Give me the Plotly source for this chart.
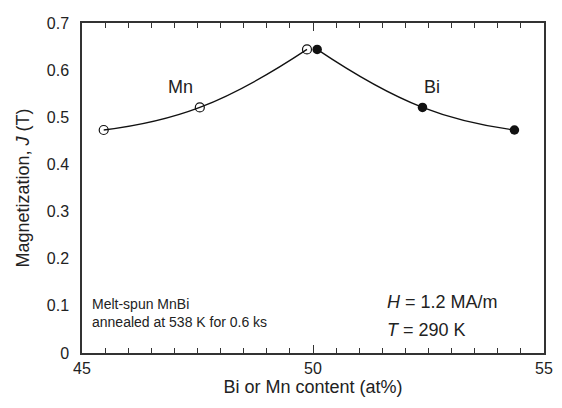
import plotly.graph_objects as go

mn_x = [45.47, 47.55, 49.87]
mn_y = [0.473, 0.521, 0.644]
bi_x = [50.09, 52.37, 54.36]
bi_y = [0.644, 0.521, 0.473]

x_ticks = [45, 50, 55]
y_ticks = [0, 0.1, 0.2, 0.3, 0.4, 0.5, 0.6, 0.7]
y_tick_labels = ["0", "0.1", "0.2", "0.3", "0.4", "0.5", "0.6", "0.7"]

FONT = "Liberation Sans, Arial, sans-serif"

fig = go.Figure()
fig.add_trace(go.Scatter(
    x=mn_x, y=mn_y, mode="lines+markers",
    line=dict(color="#111", width=1.3, shape="spline", smoothing=1.3),
    marker=dict(symbol="circle-open", size=9, color="#111", line=dict(width=1.2)),
    showlegend=False, cliponaxis=False))
fig.add_trace(go.Scatter(
    x=bi_x, y=bi_y, mode="lines+markers",
    line=dict(color="#111", width=1.3, shape="spline", smoothing=1.3),
    marker=dict(symbol="circle", size=9.5, color="#111"),
    showlegend=False, cliponaxis=False))

axis_line = "#333"
fig.update_layout(
    width=562, height=408,
    margin=dict(l=82, r=9, t=23, b=55),
    paper_bgcolor="white", plot_bgcolor="white",
    font=dict(family=FONT, color="#222", size=16),
    xaxis=dict(
        range=[45, 55], tickvals=x_ticks, ticktext=[str(v) for v in x_ticks],
        ticks="inside", ticklen=8, tickwidth=1.2, tickcolor=axis_line,
        minor=dict(dtick=0.5, ticks="inside", ticklen=5, tickwidth=1, tickcolor=axis_line),
        showline=True, linecolor=axis_line, linewidth=1.5, mirror="ticks",
        showgrid=False, zeroline=False,
        title=dict(text="Bi or Mn content (at%)", font=dict(size=18), standoff=4),
        tickfont=dict(size=16),
    ),
    yaxis=dict(
        range=[0, 0.7], tickvals=y_ticks, ticktext=y_tick_labels,
        ticks="", showline=True, linecolor=axis_line, linewidth=1.5, mirror=True,
        showgrid=False, zeroline=False, ticklabelstandoff=8,
        title=dict(text="Magnetization, <i>J</i> (T)", font=dict(size=18), standoff=12),
        tickfont=dict(size=16),
    ),
)

fig.add_annotation(x=47.13, y=0.565, text="Mn", showarrow=False, font=dict(size=18))
fig.add_annotation(x=52.57, y=0.565, text="Bi", showarrow=False, font=dict(size=18))
fig.add_annotation(x=45.17, y=0.085, text="Melt-spun MnBi<br>annealed at 538 K for 0.6 ks",
                   showarrow=False, xanchor="left", align="left", font=dict(size=14))
fig.add_annotation(x=51.55, y=0.108, text="<i>H</i> = 1.2 MA/m", showarrow=False,
                   xanchor="left", font=dict(size=18))
fig.add_annotation(x=51.55, y=0.049, text="<i>T</i> = 290 K", showarrow=False,
                   xanchor="left", font=dict(size=18))

fig.write_html("out.html", config={"displayModeBar": False},
               post_script="document.body.style.margin='0';")
